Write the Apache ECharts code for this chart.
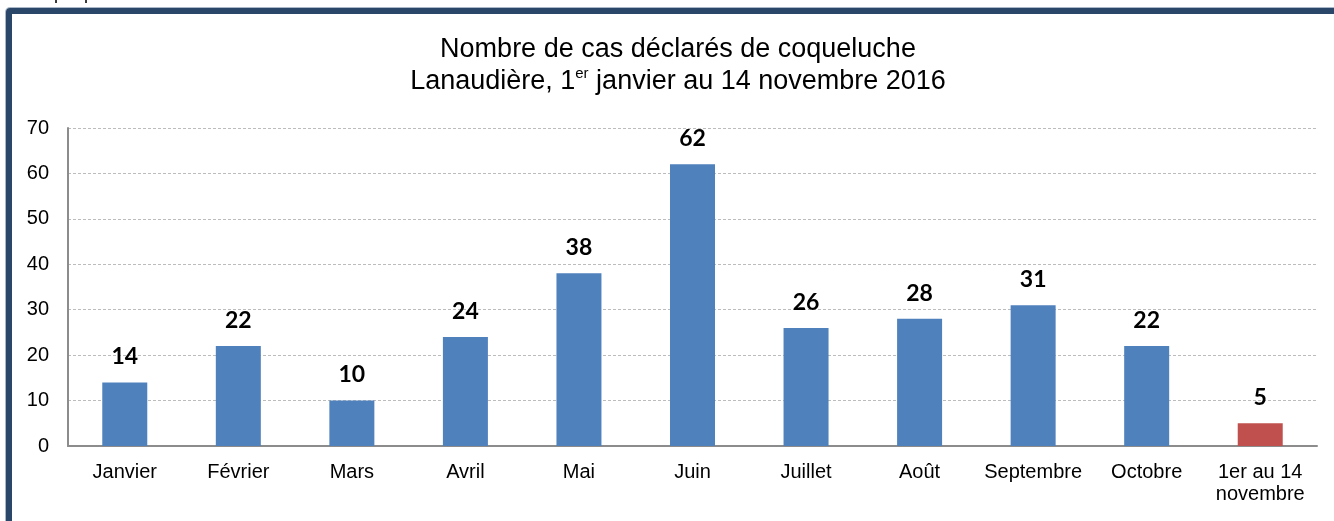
<!DOCTYPE html>
<html>
<head>
<meta charset="utf-8">
<script src="https://cdn.jsdelivr.net/npm/echarts@6/dist/echarts.min.js"></script>
<style>
  html, body { margin: 0; padding: 0; background: #fff; overflow: hidden; }
  #chart { width: 1334px; height: 521px; }
  #frame {
    position: absolute; left: 6px; top: 8px; width: 1400px; height: 600px;
    border: 6px solid #2a4668; border-radius: 4px; box-sizing: border-box;
    box-shadow: 0 0 0 1px #aab8c8; pointer-events: none;
  }
</style>
</head>
<body>
<div id="chart"></div>
<div id="frame"></div>
<script>
// mois et nombre de cas
const categories = ['Janvier', 'Février', 'Mars', 'Avril', 'Mai', 'Juin', 'Juillet', 'Août', 'Septembre', 'Octobre', '1er au 14\nnovembre'];
const cases = [14, 22, 10, 24, 38, 62, 26, 28, 31, 22, 5];
const yTicks = [0, 10, 20, 30, 40, 50, 60, 70];

const myChart = echarts.init(document.getElementById('chart'));

myChart.setOption({
  animation: false,
  backgroundColor: '#fff',
  title: {
    text: '{a|Nombre de cas déclarés de coqueluche}\n{a|Lanaudière, 1}{s|er}{a| janvier au 14 novembre 2016}',
    left: 673,
    textAlign: 'center',
    top: 29,
    textStyle: {
      rich: {
        a: { fontFamily: 'Liberation Sans', fontSize: 27, fontWeight: 'normal', color: '#000', lineHeight: 32 },
        s: { fontFamily: 'Liberation Sans', fontSize: 15, fontWeight: 'normal', color: '#000', lineHeight: 32, verticalAlign: 'top', padding: [0, 0, 10, 0] }
      }
    }
  },
  graphic: [
    {
      type: 'text',
      left: 24,
      top: -15,
      style: { text: 'Graphique 1', font: '18px "Liberation Sans"', fill: '#000' }
    }
  ],
  grid: { left: 68, right: 17, top: 128, bottom: 75 },
  xAxis: {
    type: 'category',
    data: categories,
    axisTick: { show: false },
    axisLine: { lineStyle: { color: '#8c8c8c', width: 2 } },
    axisLabel: {
      color: '#000',
      fontFamily: 'Liberation Sans',
      fontSize: 20,
      lineHeight: 22,
      margin: 15,
      interval: 0
    }
  },
  yAxis: {
    type: 'value',
    min: yTicks[0],
    max: yTicks[yTicks.length - 1],
    interval: 10,
    axisLine: { show: true, lineStyle: { color: '#8c8c8c', width: 2 } },
    axisTick: { show: false },
    axisLabel: { color: '#000', fontFamily: 'Liberation Sans', fontSize: 20, margin: 19 },
    splitLine: { lineStyle: { color: '#bcbcbc', type: [3, 2], width: 1 } }
  },
  series: [
    {
      type: 'bar',
      barWidth: 45,
      data: cases.map((v, i) => ({
        value: v,
        itemStyle: { color: i === cases.length - 1 ? '#c0504d' : '#4f81bd' }
      })),
      label: {
        show: true,
        position: 'top',
        distance: 14,
        color: '#000',
        fontFamily: 'Lato',
        fontWeight: 'bold',
        fontSize: 23
      }
    }
  ]
});
</script>
</body>
</html>
